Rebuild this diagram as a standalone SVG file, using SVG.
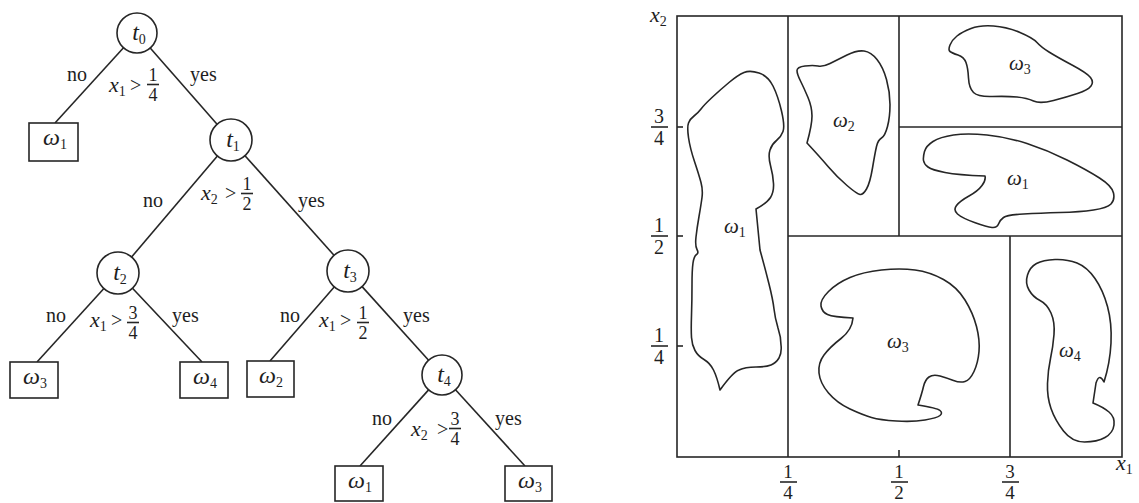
<svg xmlns="http://www.w3.org/2000/svg" width="1139" height="503" viewBox="0 0 1139 503">
<style>
text{font-family:"Liberation Serif","Times New Roman",serif;fill:#1e1e1e}
.lab{font-size:20px}
.it{font-style:italic;font-size:22px}
.node{font-size:24px;font-style:italic;text-anchor:middle}
.fr{font-size:18px;text-anchor:middle}
.ln{stroke:#262626;stroke-width:1.6;fill:none}
.box{fill:#fff;stroke:#262626;stroke-width:1.6}
.blob{fill:none;stroke:#262626;stroke-width:1.6;stroke-linejoin:round}
.rl{font-size:21px;font-style:italic}
.sub{font-size:14px;font-style:normal}
</style>
<rect width="1139" height="503" fill="#fff"/>

<!-- connectors -->
<g id="connectors" class="ln">
<line x1="123.5" y1="47.8" x2="55" y2="123"/>
<line x1="150.2" y1="48" x2="217.1" y2="124.2"/>
<line x1="217.4" y1="156" x2="131.6" y2="257"/>
<line x1="245" y1="155.7" x2="334" y2="255.3"/>
<line x1="103.9" y1="288.5" x2="37" y2="362"/>
<line x1="132.5" y1="288.2" x2="202" y2="362"/>
<line x1="334.2" y1="286.9" x2="270" y2="361"/>
<line x1="362.1" y1="286.6" x2="428.6" y2="360.2"/>
<line x1="428.6" y1="389.9" x2="360" y2="466"/>
<line x1="455.5" y1="389.8" x2="525" y2="466"/>
</g>

<!-- edge labels -->
<g id="edge-labels" class="lab">
<text x="67" y="81">no</text><text x="190" y="81">yes</text>
<text x="109" y="92" class="it">x<tspan class="sub" dy="4">1</tspan></text><text x="130" y="92">&gt;</text>
<text x="153" y="81" class="fr">1</text><line class="ln" x1="147" y1="84.5" x2="159" y2="84.5"/><text x="153" y="101" class="fr">4</text>

<text x="143" y="207">no</text><text x="298" y="207">yes</text>
<text x="201" y="200" class="it">x<tspan class="sub" dy="4">2</tspan></text><text x="225" y="200">&gt;</text>
<text x="247" y="190" class="fr">1</text><line class="ln" x1="241" y1="193.5" x2="253" y2="193.5"/><text x="247" y="210" class="fr">2</text>

<text x="46" y="322">no</text><text x="172" y="322">yes</text>
<text x="90" y="327" class="it">x<tspan class="sub" dy="4">1</tspan></text><text x="111" y="327">&gt;</text>
<text x="133" y="319" class="fr">3</text><line class="ln" x1="127" y1="322.5" x2="139" y2="322.5"/><text x="133" y="339" class="fr">4</text>

<text x="280" y="322">no</text><text x="403" y="322">yes</text>
<text x="319" y="327" class="it">x<tspan class="sub" dy="4">1</tspan></text><text x="340" y="327">&gt;</text>
<text x="363" y="319" class="fr">1</text><line class="ln" x1="357" y1="322.5" x2="369" y2="322.5"/><text x="363" y="339" class="fr">2</text>

<text x="372" y="425">no</text><text x="495" y="425">yes</text>
<text x="411" y="436" class="it">x<tspan class="sub" dy="4">2</tspan></text><text x="437" y="436">&gt;</text>
<text x="455" y="425" class="fr">3</text><line class="ln" x1="449" y1="428.5" x2="461" y2="428.5"/><text x="455" y="445" class="fr">4</text>
</g>

<!-- tree nodes -->
<g id="t0"><circle class="box" cx="137" cy="33" r="20"/><text class="node" x="139" y="40">t<tspan class="sub" dy="4">0</tspan></text></g>
<g id="t1"><circle class="box" cx="231" cy="140" r="21"/><text class="node" x="233" y="147">t<tspan class="sub" dy="4">1</tspan></text></g>
<g id="t2"><circle class="box" cx="118" cy="273" r="21"/><text class="node" x="120" y="280">t<tspan class="sub" dy="4">2</tspan></text></g>
<g id="t3"><circle class="box" cx="348" cy="271" r="21"/><text class="node" x="350" y="278">t<tspan class="sub" dy="4">3</tspan></text></g>
<g id="t4"><circle class="box" cx="442" cy="375" r="20"/><text class="node" x="444" y="382">t<tspan class="sub" dy="4">4</tspan></text></g>

<g id="leaf-w1a"><rect class="box" x="29" y="123" width="49" height="38"/><text class="node" x="55" y="145">ω<tspan class="sub" dy="4">1</tspan></text></g>
<g id="leaf-w3a"><rect class="box" x="10" y="362" width="48" height="36"/><text class="node" x="35" y="384">ω<tspan class="sub" dy="4">3</tspan></text></g>
<g id="leaf-w4"><rect class="box" x="180" y="362" width="48" height="36"/><text class="node" x="205" y="384">ω<tspan class="sub" dy="4">4</tspan></text></g>
<g id="leaf-w2"><rect class="box" x="247" y="361" width="47" height="36"/><text class="node" x="271" y="383">ω<tspan class="sub" dy="4">2</tspan></text></g>
<g id="leaf-w1b"><rect class="box" x="335" y="466" width="48" height="35"/><text class="node" x="360" y="488">ω<tspan class="sub" dy="4">1</tspan></text></g>
<g id="leaf-w3b"><rect class="box" x="505" y="466" width="47" height="35"/><text class="node" x="530" y="488">ω<tspan class="sub" dy="4">3</tspan></text></g>

<!-- partition of feature space -->
<g id="partition">
<g class="ln">
<rect x="677" y="16" width="445" height="441"/>
<line x1="788" y1="16" x2="788" y2="457"/>
<line x1="788" y1="236" x2="1122" y2="236"/>
<line x1="899" y1="16" x2="899" y2="236"/>
<line x1="899" y1="127" x2="1122" y2="127"/>
<line x1="1010" y1="236" x2="1010" y2="457"/>
<line x1="677" y1="127" x2="683" y2="127"/>
<line x1="677" y1="236" x2="683" y2="236"/>
<line x1="677" y1="346" x2="683" y2="346"/>
<line x1="899" y1="450" x2="899" y2="457"/>
</g>
<text x="650" y="22" class="it">x<tspan class="sub" dy="4">2</tspan></text>
<text x="1116" y="470" class="it">x<tspan class="sub" dy="4">1</tspan></text>

<g class="fr" style="font-size:20px">
<text x="659" y="123">3</text><text x="659" y="145">4</text>
<text x="659" y="232">1</text><text x="659" y="254">2</text>
<text x="659" y="342">1</text><text x="659" y="364">4</text>
</g>
<g class="fr" style="font-size:19px">
<text x="788" y="478">1</text><text x="788" y="499">4</text>
<text x="899" y="478">1</text><text x="899" y="499">2</text>
<text x="1010" y="478">3</text><text x="1010" y="499">4</text>
</g>
<g class="ln">
<line x1="651" y1="127" x2="668" y2="127"/>
<line x1="651" y1="236" x2="668" y2="236"/>
<line x1="651" y1="346" x2="668" y2="346"/>
<line x1="780" y1="482" x2="797" y2="482"/>
<line x1="891" y1="482" x2="908" y2="482"/>
<line x1="1002" y1="482" x2="1019" y2="482"/>
</g>

<g id="region-w1-left">
<path class="blob" d="M 756,209 L 760,250 Q 765,268 769,284 Q 773,300 774,309 Q 775,318 778,328 Q 781,337 781,345 Q 782,352 779,358 Q 776,363 771,365 Q 766,367 756,367 Q 745,367 739,370 Q 733,372 720,390 Q 717,377 713.5,370 Q 710,363 704,359.5 Q 698,356 695,350.5 Q 692,345 691.5,337.5 Q 691,330 691.5,315 Q 692,300 692,285 Q 692,270 693,263 Q 694,256 696.5,254.5 Q 699,253 697,249.5 Q 695,246 696,237 Q 697,228 699,216.5 Q 701,205 702,197.5 Q 703,190 701,182.5 Q 699,175 694.5,161.5 Q 690,148 688.5,137.5 Q 687,127 688.5,123 Q 690,119 694,116 Q 698,113 701,109 Q 704,105 712,97.5 Q 720,90 729,82.5 Q 738,75 744,72.5 Q 750,70 759,73 Q 768,76 773,86 Q 778,96 781.5,111 Q 785,126 783,131.5 Q 781,137 776.5,140.5 Q 772,144 770,150 Q 768,156 770.5,165.5 Q 773,175 773.5,183.5 Q 774,192 770.5,197.5 Q 767,203 756,209 Z"/>
<text class="rl" x="724" y="233">ω<tspan class="sub" dy="4">1</tspan></text>
</g>
<g id="region-w2">
<path class="blob" d="M 807,143 Q 812,125 812,116 Q 812,107 808,97.5 Q 804,88 800.5,81 Q 797,74 797,70.5 Q 797,67 805,66 Q 813,65 818,66 Q 823,67 830,63.5 Q 837,60 847,55 Q 857,50 864,51 Q 871,52 877,59.5 Q 883,67 886.5,79.5 Q 890,92 890,104.5 Q 890,117 887.5,126.5 Q 885,136 881.5,138 Q 878,140 876.5,146.5 Q 875,153 872.5,168 Q 870,183 866.5,189 Q 863,195 860,194.5 Q 857,194 847,185.5 Q 837,177 828.5,167 Q 820,157 807,143 Z"/>
<text class="rl" x="833" y="127">ω<tspan class="sub" dy="4">2</tspan></text>
</g>
<g id="region-w3-top">
<path class="blob" d="M 950,51.5 Q 948,50 950,45 Q 952,40 957,36 Q 962,32 971,28.5 Q 980,25 993.5,26 Q 1007,27 1020,32.5 Q 1033,38 1037,42.5 Q 1041,47 1049,52 Q 1057,57 1072,65 Q 1087,73 1090.5,77.5 Q 1094,82 1091,86 Q 1088,90 1077.5,93.5 Q 1067,97 1053.5,100.5 Q 1040,104 1033.5,101 Q 1027,98 1017,97 Q 1007,96 992.5,96.5 Q 978,97 973.5,92.5 Q 969,88 968.5,78 Q 968,68 966,62.5 Q 964,57 958,55 Q 952,53 950,51.5 Z"/>
<text class="rl" x="1009" y="70">ω<tspan class="sub" dy="4">3</tspan></text>
</g>
<g id="region-w1-right">
<path class="blob" d="M 985,176 Q 958,175 945,172.5 Q 932,170 928,167 Q 924,164 923.5,160.5 Q 923,157 924.5,151.5 Q 926,146 933,141.5 Q 940,137 953.5,135 Q 967,133 987,135 Q 1007,137 1027,143.5 Q 1047,150 1067,160 Q 1087,170 1099.5,178 Q 1112,186 1113.5,193 Q 1115,200 1111,204 Q 1107,208 1093.5,210 Q 1080,212 1060,212.5 Q 1040,213 1023.5,214 Q 1007,215 1003.5,217.5 Q 1000,220 998.5,224 Q 997,228 992,227.5 Q 987,227 974.5,222.5 Q 962,218 957.5,214 Q 953,210 956.5,205.5 Q 960,201 969,196 Q 978,191 982,185.5 Q 986,180 985,176 Z"/>
<text class="rl" x="1007" y="185">ω<tspan class="sub" dy="4">1</tspan></text>
</g>
<g id="region-w3-bottom">
<path class="blob" d="M 918,405 Q 937,408 940,410.5 Q 943,413 940,415.5 Q 937,418 925,420 Q 913,422 896.5,421 Q 880,420 871.5,417.5 Q 863,415 850,409 Q 837,403 828.5,393 Q 820,383 819,373 Q 818,363 824,355 Q 830,347 841,338.5 Q 852,330 853,318 Q 833,317 827.5,314.5 Q 822,312 821,306 Q 820,300 828.5,291.5 Q 837,283 850,277.5 Q 863,272 881.5,270 Q 900,268 915,270 Q 930,272 943.5,279.5 Q 957,287 965,300 Q 973,313 976.5,326.5 Q 980,340 979,351.5 Q 978,363 974,371.5 Q 970,380 965,381.5 Q 960,383 953.5,380.5 Q 947,378 940,376 Q 933,374 929,377 Q 925,380 923.5,386.5 Q 922,393 918,405 Z"/>
<text class="rl" x="887" y="348">ω<tspan class="sub" dy="4">3</tspan></text>
</g>
<g id="region-w4">
<path class="blob" d="M 1093,403 L 1096,383 Q 1098,377 1100,377.5 Q 1102,378 1104,382 Q 1110,363 1111,343 Q 1112,323 1107.5,306.5 Q 1103,290 1095,278.5 Q 1087,267 1077,263 Q 1067,259 1055,259.5 Q 1043,260 1036.5,263.5 Q 1030,267 1027.5,275 Q 1025,283 1029,290 Q 1033,297 1040,300.5 Q 1047,304 1051,313 Q 1055,322 1054,334.5 Q 1053,347 1050.5,358.5 Q 1048,370 1047.5,383.5 Q 1047,397 1051,408.5 Q 1055,420 1063.5,431 Q 1072,442 1084.5,442 Q 1097,442 1105,437.5 Q 1113,433 1114,425 Q 1115,417 1109,412 Q 1103,407 1093,403 Z"/>
<text class="rl" x="1059" y="357">ω<tspan class="sub" dy="4">4</tspan></text>
</g>
</g>
</svg>
